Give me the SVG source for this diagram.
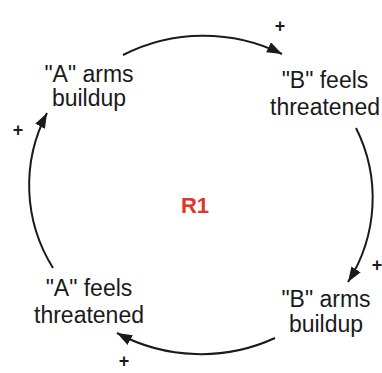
<svg xmlns="http://www.w3.org/2000/svg" width="382" height="373" viewBox="0 0 382 373">
  <defs>
    <marker id="arrow" markerUnits="userSpaceOnUse" markerWidth="16" markerHeight="12" refX="15" refY="5.5" orient="auto">
      <path d="M0,0 L15,5.5 L0,11 z" fill="#1a1a1a"/>
    </marker>
    <style>
      .lbl { font-family: "Liberation Sans", Arial, sans-serif; font-size: 23px; fill: #1a1a1a; text-anchor: middle; }
      .pol { font-family: "Liberation Sans", Arial, sans-serif; font-size: 18px; font-weight: bold; fill: #1a1a1a; text-anchor: middle; }
      .link { fill: none; stroke: #1a1a1a; stroke-width: 2; marker-end: url(#arrow); }
      .loop { font-family: "Liberation Sans", Arial, sans-serif; font-size: 22px; font-weight: bold; fill: #e0352b; text-anchor: middle; }
    </style>
  </defs>
  <rect width="382" height="373" fill="#ffffff"/>

  <g id="connectors">
    <path class="link" d="M123,55 A170,162 0 0 1 282,54"/>
    <path class="link" d="M356,128 A170,162 0 0 1 348,282"/>
    <path class="link" d="M275,338 A170,162 0 0 1 117,333"/>
    <path class="link" d="M53,268 A170,162 0 0 1 47,113"/>
  </g>

  <g id="polarities">
    <text class="pol" x="280" y="32">+</text>
    <text class="pol" x="377" y="271">+</text>
    <text class="pol" x="124" y="367">+</text>
    <text class="pol" x="18" y="136">+</text>
  </g>

  <g id="node-a-arms">
    <text class="lbl" x="89" y="82">"A" arms</text>
    <text class="lbl" x="89" y="106">buildup</text>
  </g>
  <g id="node-b-feels">
    <text class="lbl" x="325" y="88">"B" feels</text>
    <text class="lbl" x="325" y="115">threatened</text>
  </g>
  <g id="node-b-arms">
    <text class="lbl" x="326" y="307">"B" arms</text>
    <text class="lbl" x="326" y="332">buildup</text>
  </g>
  <g id="node-a-feels">
    <text class="lbl" x="89" y="296">"A" feels</text>
    <text class="lbl" x="89" y="323">threatened</text>
  </g>
  <g id="loop-r1">
    <text class="loop" x="195" y="213">R1</text>
  </g>
</svg>
